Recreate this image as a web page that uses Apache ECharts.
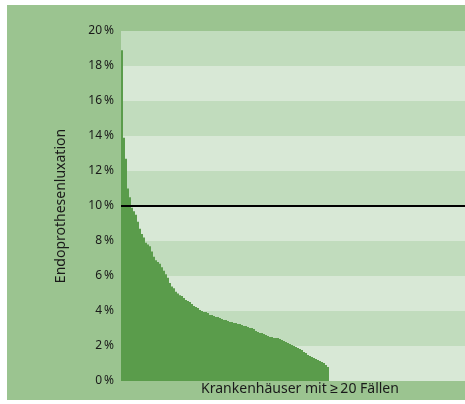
<!DOCTYPE html>
<html>
<head>
<meta charset="utf-8">
<script src="https://cdn.jsdelivr.net/npm/echarts@6/dist/echarts.min.js"></script>
<style>
html,body{margin:0;padding:0;background:#ffffff;}
#chart{width:465px;height:404px;}
</style>
</head>
<body>
<div id="chart"></div>
<script>
// Luxationsrate je Krankenhaus (%), absteigend sortiert
const rates = [
  18.9, 13.9, 12.7, 11.0, 10.5, 9.9, 9.7, 9.5, 9.1, 8.7,
  8.4, 8.2, 7.9, 7.8, 7.7, 7.4, 7.1, 6.9, 6.8, 6.7,
  6.5, 6.3, 6.1, 5.9, 5.6, 5.4, 5.3, 5.1, 5.0, 4.9,
  4.86, 4.74, 4.63, 4.57, 4.51, 4.4, 4.29, 4.23, 4.17, 4.06,
  4.0, 3.94, 3.94, 3.89, 3.77, 3.77, 3.71, 3.66, 3.66, 3.6,
  3.54, 3.49, 3.49, 3.43, 3.37, 3.37, 3.31, 3.31, 3.26, 3.26,
  3.2, 3.14, 3.14, 3.09, 3.03, 3.03, 2.97, 2.86, 2.8, 2.74,
  2.74, 2.69, 2.63, 2.57, 2.51, 2.51, 2.46, 2.46, 2.46, 2.4,
  2.34, 2.29, 2.23, 2.17, 2.11, 2.06, 2.0, 1.94, 1.89, 1.83,
  1.77, 1.66, 1.6, 1.49, 1.43, 1.37, 1.31, 1.26, 1.2, 1.14,
  1.09, 1.03, 0.91, 0.8
];
const emptySlots = 68;          // freie Kategorien rechts
const referenceLine = 10;       // Referenzbereich (%)
const yTicks = [0, 2, 4, 6, 8, 10, 12, 14, 16, 18, 20];
const xTitle = 'Krankenhäuser mit \u2265\u200920 Fällen';
const yTitle = 'Endoprothesenluxation';

const categories = [];
for (let i = 0; i < rates.length + emptySlots; i++) categories.push(String(i + 1));
const seriesData = rates.slice();
for (let i = 0; i < emptySlots; i++) seriesData.push(null);

const FONT = '"Noto Sans", sans-serif';
const chart = echarts.init(document.getElementById('chart'), null, {renderer: 'canvas'});
chart.setOption({
  animation: false,
  backgroundColor: '#ffffff',
  graphic: [
    {type: 'rect', z: -10, silent: true,
     shape: {x: 7, y: 5, width: 458, height: 395},
     style: {fill: '#9bc490'}},
    {type: 'text', x: 300, y: 382, silent: true,
     style: {text: xTitle, textAlign: 'center', textVerticalAlign: 'top',
             font: '14px "Noto Sans", sans-serif', fill: '#1a1a1a'}}
  ],
  grid: {left: 121, top: 31, right: 0, height: 350, containLabel: false},
  xAxis: {
    type: 'category',
    data: categories,
    axisLine: {show: false},
    axisTick: {show: false},
    axisLabel: {show: false},
    splitLine: {show: false}
  },
  yAxis: {
    type: 'value',
    min: yTicks[0],
    max: yTicks[yTicks.length - 1],
    interval: 2,
    name: yTitle,
    nameLocation: 'middle',
    nameGap: 53,
    nameTextStyle: {fontFamily: FONT, fontSize: 14, color: '#1a1a1a'},
    axisLine: {show: false},
    axisTick: {show: false},
    axisLabel: {formatter: '{value}\u2009%', margin: 7, fontFamily: FONT, fontSize: 12, color: '#1a1a1a'},
    splitLine: {show: false},
    splitArea: {show: true, areaStyle: {color: ['#d8e8d6', '#c1dcbd']}}
  },
  series: [{
    type: 'bar',
    data: seriesData,
    barWidth: '100%',
    barCategoryGap: '0%',
    itemStyle: {color: '#5a9c4b'},
    markLine: {
      silent: true,
      symbol: ['none', 'none'],
      label: {show: false},
      lineStyle: {color: '#000000', width: 2, type: 'solid'},
      data: [{yAxis: referenceLine}]
    }
  }]
});
</script>
</body>
</html>
